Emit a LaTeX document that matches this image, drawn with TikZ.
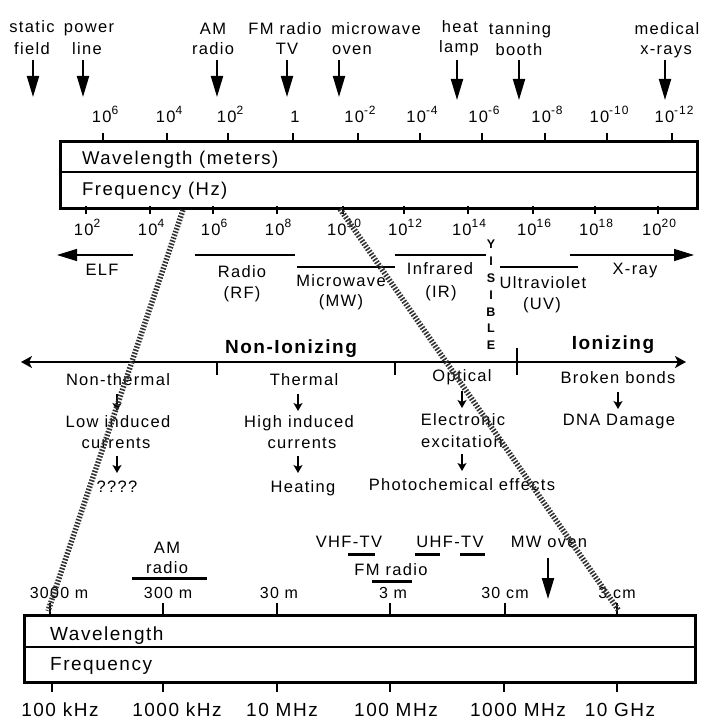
\documentclass[tikz,border=0pt]{standalone}
\usepackage{fontspec}
\setmainfont{Liberation Sans}[LetterSpace=8]
\usetikzlibrary{arrows.meta}
\newcommand\supx[1]{\raisebox{0.5em}{\fontsize{12}{12}\selectfont #1}}
\tikzset{
  lbl/.style={inner sep=0pt, anchor=base, font=\fontsize{16.5}{20}\selectfont},
  boxtxt/.style={inner sep=0pt, anchor=base west, font=\fontsize{18.5}{21}\selectfont},
  bigtxt/.style={inner sep=0pt, anchor=base, font=\fontsize{19}{22}\selectfont},
  smalltxt/.style={inner sep=0pt, anchor=base, font=\fontsize{16}{19}\selectfont},
  heading/.style={inner sep=0pt, anchor=base, font=\bfseries\fontsize{19}{22}\selectfont},
  pointer/.style={line width=2pt, -{Triangle[length=21pt,width=12pt]}},
  bandline/.style={line width=1.3pt},
  bandarrow/.style={line width=1.3pt, -{Triangle[length=20pt,width=12pt]}},
  axisline/.style={line width=2.7pt, {Stealth[length=11pt,width=12pt,inset=3pt]}-{Stealth[length=11pt,width=12pt,inset=3pt]}},
  effect/.style={line width=1.4pt, -{Stealth[length=8pt,width=9pt,inset=2pt]}},
  bar/.style={line width=3pt},
  hatch/.style={line width=5.5pt, black!80, dash pattern=on 1.6pt off 1.6pt},
  framebox/.style={draw, line width=3pt, inner sep=0pt, rectangle},
  divider/.style={line width=1.3pt},
  tick/.style={line width=1.3pt},
  axtick/.style={line width=2.5pt}
}
\begin{document}
\begin{tikzpicture}[x=1pt,y=-1pt]
\useasboundingbox[fill=white] (0,0) rectangle (702,719);

% ---------- sources along the top ----------
\node[lbl] (sf1) at (32,33) {static};
\node[lbl] (sf2) at (32,55) {field};
\node[lbl] (pl1) at (89,33) {power};
\node[lbl] (pl2) at (87,55) {line};
\node[lbl] (am1) at (213,35) {AM};
\node[lbl] (am2) at (213,55) {radio};
\node[lbl] (fm1) at (285,35) {FM radio};
\node[lbl] (fm2) at (287,55) {TV};
\node[lbl] (mo1) at (376,35) {microwave};
\node[lbl] (mo2) at (352,55) {oven};
\node[lbl] (hl1) at (460,33) {heat};
\node[lbl] (hl2) at (459,53) {lamp};
\node[lbl] (tb1) at (520,35) {tanning};
\node[lbl] (tb2) at (519,56) {booth};
\node[lbl] (mx1) at (667,35) {medical};
\node[lbl] (mx2) at (666,55) {x-rays};

\foreach \n/\x/\y in {sf/33/97, pl/83/97, am/217/97, fm/287/97, mo/339/97,
                      hl/457/100, tb/519/100, mx/665/100}{
  \coordinate (\n-top) at (\x,60);
  \coordinate (\n-tip) at (\x,\y);
  \draw[pointer] (\n-top) -- (\n-tip);
}

% ---------- wavelength scale ----------
\foreach \x/\t in {103/{10\supx{6}}, 167/{10\supx{4}}, 228/{10\supx{2}}, 293/{1},
                   358/{10\supx{-2}}, 420/{10\supx{-4}}, 482/{10\supx{-6}},
                   545/{10\supx{-8}}, 607/{10\supx{-10}}, 672/{10\supx{-12}}}{
  \draw[tick] (\x,133) -- (\x,142);
  \node[lbl] (wl-\x) at (\x+2,123) {\t};
}

% ---------- main spectrum bar ----------
\node[framebox, minimum width=637pt, minimum height=67pt] (spec) at (378.5,175.5) {};
\draw[divider] (spec.west |- 0,172) -- (spec.east |- 0,172);
\node[boxtxt] (wltxt) at (82,165) {Wavelength (meters)};
\node[boxtxt] (frtxt) at (82,196) {Frequency (Hz)};

% ---------- frequency scale ----------
\foreach \x/\e in {86/2, 150/4, 213/6, 277/8, 343/10, 404/12, 468/14, 533/16, 595/18, 658/20}{
  \draw[tick] (\x,206) -- (\x,214);
  \node[lbl] (fq-\x) at (\x+1,236) {10\supx{\e}};
}

% ---------- bands ----------
\coordinate (elf-r) at (133,255);
\coordinate (elf-l) at (57,255);
\draw[bandarrow] (elf-r) -- (elf-l);
\node[lbl] (elf) at (102,275) {ELF};

\coordinate (rf-l) at (195,255);
\coordinate (rf-r) at (295,255);
\draw[bandline] (rf-l) -- (rf-r);
\node[lbl] (rf1) at (242,277) {Radio};
\node[lbl] (rf2) at (242,298) {(RF)};

\coordinate (mw-l) at (297,267);
\coordinate (mw-r) at (395,267);
\draw[bandline] (mw-l) -- (mw-r);
\node[lbl] (mw1) at (341,286) {Microwave};
\node[lbl] (mw2) at (341,306) {(MW)};

\coordinate (ir-l) at (395,255);
\coordinate (ir-r) at (486,255);
\draw[bandline] (ir-l) -- (ir-r);
\node[lbl] (ir1) at (440,274) {Infrared};
\node[lbl] (ir2) at (441,297) {(IR)};

\node[inner sep=0pt, align=center, font=\bfseries\fontsize{12.5}{16.8}\selectfont] (vis)
  at (491,295) {Y\\I\\S\\I\\B\\L\\E};

\coordinate (uv-l) at (500,267);
\coordinate (uv-r) at (578,267);
\draw[bandline] (uv-l) -- (uv-r);
\node[lbl] (uv1) at (543,288) {Ultraviolet};
\node[lbl] (uv2) at (542,309) {(UV)};

\coordinate (xr-l) at (570,255);
\coordinate (xr-r) at (694,255);
\draw[bandarrow] (xr-l) -- (xr-r);
\node[lbl] (xr) at (635,274) {X-ray};

% ---------- ionizing axis ----------
\coordinate (ax-l) at (21,362);
\coordinate (ax-r) at (686,362);
\draw[axisline] (ax-l) -- (ax-r);
\coordinate (t1) at (217,362);
\coordinate (t2) at (395,362);
\draw[axtick] (t1) -- ++(0,13);
\draw[axtick] (t2) -- ++(0,13);
\draw[axtick] (517,348) -- (517,375);
\node[heading] (nonion) at (291,353) {Non-Ionizing};
\node[heading] (ion) at (613,349) {Ionizing};

% ---------- biological effects ----------
\node[lbl] (nt) at (118,385) {Non-thermal};
\node[lbl] (lic1) at (118,427) {Low induced};
\node[lbl] (lic2) at (116,448) {currents};
\node[lbl] (unk) at (117,492) {????};
\draw[effect] (117,394) -- (117,411);
\draw[effect] (117,456) -- (117,473);

\node[lbl] (th) at (304,385) {Thermal};
\node[lbl] (hic1) at (299,427) {High induced};
\node[lbl] (hic2) at (302,448) {currents};
\node[lbl] (heat) at (303,492) {Heating};
\draw[effect] (298,394) -- (298,411);
\draw[effect] (298,456) -- (298,473);

\node[lbl] (opt) at (462,381) {Optical};
\node[lbl] (ee1) at (463,425) {Electronic};
\node[lbl] (ee2) at (462,447) {excitation};
\node[lbl] (pce) at (462,490) {Photochemical effects};
\draw[effect] (462,391) -- (462,408);
\draw[effect] (462,454) -- (462,471);

\node[lbl] (bb) at (618,383) {Broken bonds};
\node[lbl] (dna) at (619,425) {DNA Damage};
\draw[effect] (618,392) -- (618,409);

% ---------- radio / microwave detail ----------
\node[lbl] (am-a) at (167,553) {AM};
\node[lbl] (am-b) at (167,573) {radio};
\draw[bar] (132,578) -- (207,578);

\node[lbl] (vhf) at (349,547) {VHF-TV};
\draw[bar] (348,554) -- (375,554);
\node[lbl] (uhf) at (450,547) {UHF-TV};
\draw[bar] (415,554) -- (440,554);
\draw[bar] (460,554) -- (485,554);
\node[lbl] (fmr) at (391,575) {FM radio};
\draw[bar] (372,581) -- (412,581);

\node[lbl] (mwo) at (549,547) {MW oven};
\coordinate (mwo-top) at (548,558);
\coordinate (mwo-tip) at (548,599);
\draw[pointer] (mwo-top) -- (mwo-tip);

\foreach \x/\xl/\t in {50/59/{3000 m}, 163/168/{300 m}, 277/279/{30 m}, 390/393/{3 m},
                       505/505/{30 cm}, 617/617/{3 cm}}{
  \draw[tick] (\x,603) -- (\x,615);
  \node[smalltxt] (dw-\x) at (\xl,598) {\t};
}

\node[framebox, minimum width=671pt, minimum height=67pt] (detail) at (359.5,648.5) {};
\draw[divider] (detail.west |- 0,647) -- (detail.east |- 0,647);
\node[boxtxt, font=\fontsize{19}{22}\selectfont] (dwl) at (50,640) {Wavelength};
\node[boxtxt, font=\fontsize{19}{22}\selectfont] (dfr) at (50,670) {Frequency};

\foreach \x/\xl/\t in {52/60/{100 kHz}, 163/177/{1000 kHz}, 277/282/{10 MHz},
                       390/396/{100 MHz}, 504/518/{1000 MHz}, 617/620/{10 GHz}}{
  \draw[tick] (\x,682) -- (\x,692);
  \node[bigtxt] (df-\x) at (\xl,716) {\t};
}

% ---------- zoom guides ----------
\coordinate (zl-a) at (183,210);
\coordinate (zl-b) at (48,611);
\coordinate (zr-a) at (340,209);
\coordinate (zr-b) at (619,611);
\draw[hatch] (zl-a) -- (zl-b);
\draw[hatch] (zr-a) -- (zr-b);
\end{tikzpicture}
\end{document}
